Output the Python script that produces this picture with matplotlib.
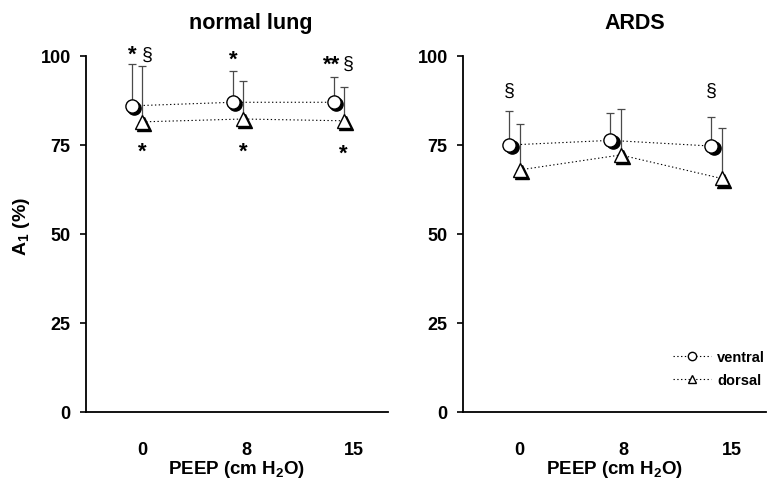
import numpy as np
import matplotlib
matplotlib.use('Agg')
from matplotlib import pyplot as plt
from matplotlib import transforms
from matplotlib.lines import Line2D

plt.rcParams['font.family'] = ['Liberation Sans', 'DejaVu Sans']
plt.rcParams['font.weight'] = 'bold'
plt.rcParams['axes.labelweight'] = 'bold'
plt.rcParams['mathtext.fontset'] = 'custom'
plt.rcParams['mathtext.rm'] = 'Liberation Sans:bold'
plt.rcParams['mathtext.default'] = 'rm'

peep = ['0', '8', '15']
titles = ['normal lung', 'ARDS']

# A1 (%) means and upper SD ends
ventral = [[86.0, 87.0, 87.0], [75.0, 76.3, 74.7]]
ventral_top = [[97.8, 95.7, 94.0], [84.6, 84.0, 82.8]]
dorsal = [[81.5, 82.3, 81.8], [68.0, 72.2, 65.6]]
dorsal_top = [[97.3, 92.9, 91.4], [80.9, 85.2, 79.8]]

# significance marks: (panel, group, series, value, text)
marks = [
    (0, 0, 'v', 100.4, '*'), (0, 0, 'd', 100.4, '§'),
    (0, 1, 'v', 99.2, '*'),
    (0, 2, 'v', 97.8, '**'), (0, 2, 'd', 97.9, '§'),
    (0, 0, 'd', 73.2, '*'), (0, 1, 'd', 73.2, '*'), (0, 2, 'd', 72.6, '*'),
    (1, 0, 'v', 90.4, '§'), (1, 2, 'v', 90.4, '§'),
]

fig = plt.figure(figsize=(7.69, 4.81), dpi=100)
ax1 = fig.add_axes([0.1118, 0.1414, 0.3928, 0.7401])
ax2 = fig.add_axes([0.6021, 0.1414, 0.3940, 0.7401])
axes = [ax1, ax2]

x = np.arange(len(peep))
xv = x - 0.0
xd = x + 0.1
dots = (0, (1.2, 2.2))


def shadow_plot(ax, xs, ys, marker, size):
    shift = transforms.ScaledTranslation(1.5 / 72, -1.5 / 72, fig.dpi_scale_trans)
    ax.plot(xs, ys, linestyle='none', marker=marker, markersize=size,
            color='black', transform=ax.transData + shift, zorder=4, clip_on=False)
    ax.plot(xs, ys, linestyle='none', marker=marker, markersize=size,
            markerfacecolor='white', markeredgecolor='black', markeredgewidth=1.0,
            zorder=5, clip_on=False)


title_x = [0.546, 0.568]
for i, ax in enumerate(axes):
    v = np.array(ventral[i])
    d = np.array(dorsal[i])
    vt = np.array(ventral_top[i])
    dt = np.array(dorsal_top[i])
    ax.errorbar(xv, v, yerr=[np.zeros(3), vt - v], fmt='none', ecolor='#4a4a4a',
                elinewidth=0.9, capsize=3, capthick=0.9, zorder=2)
    ax.errorbar(xd, d, yerr=[np.zeros(3), dt - d], fmt='none', ecolor='#4a4a4a',
                elinewidth=0.9, capsize=3, capthick=0.9, zorder=2)
    ax.plot(xv, v, color='black', linestyle=dots, linewidth=0.8, zorder=3)
    ax.plot(xd, d, color='black', linestyle=dots, linewidth=0.8, zorder=3)
    shadow_plot(ax, xv, v, 'o', 9.5)
    shadow_plot(ax, xd, d, '^', 9.5)

    ax.set_xlim(-0.46, 2.54)
    ax.set_ylim(0, 100)
    ax.set_yticks([0, 25, 50, 75, 100])
    ax.set_xticks([0.1, 1.13, 2.2])
    ax.set_xticklabels(peep)
    ax.tick_params(axis='x', length=0, pad=21, labelsize=13)
    ax.tick_params(axis='y', length=4.5, width=1.2, pad=6.5, labelsize=13)
    for s in ['top', 'right']:
        ax.spines[s].set_visible(False)
    for s in ['left', 'bottom']:
        ax.spines[s].set_linewidth(1.3)
    ax.set_title(titles[i], fontsize=15.5, fontweight='bold', pad=20, x=title_x[i])
    ax.set_xlabel('PEEP (cm H$_2$O)', fontsize=13.5, fontweight='bold', labelpad=0)

ax1.set_ylabel('A$_1$ (%)', fontsize=14, fontweight='bold')
ax1.yaxis.set_label_coords(-0.18, 0.525)

for p, g, s, val, txt in marks:
    xpos = xv[g] if s == 'v' else xd[g] + 0.05
    if txt == '*' and s == 'd' and val < 80:
        xpos = xd[g]
    if txt == '**':
        xpos = xv[g] - 0.02
    if txt == '§':
        w = 'normal'
        fs = 14
    else:
        w = 'bold'
        fs = 16
    axes[p].text(xpos, val, txt, ha='center', va='center', fontsize=fs,
                 fontweight=w, clip_on=False)

handles = [
    Line2D([], [], color='black', linestyle=dots, linewidth=0.8, marker='o',
           markersize=6, markerfacecolor='white', markeredgecolor='black'),
    Line2D([], [], color='black', linestyle=dots, linewidth=0.8, marker='^',
           markersize=6, markerfacecolor='white', markeredgecolor='black'),
]
ax2.legend(handles, ['ventral', 'dorsal'], loc='lower right', bbox_to_anchor=(1.04, 0.033),
           frameon=False, fontsize=10.5, handlelength=2.6, handletextpad=0.4,
           labelspacing=0.6)

plt.savefig('out.png', dpi=100)
